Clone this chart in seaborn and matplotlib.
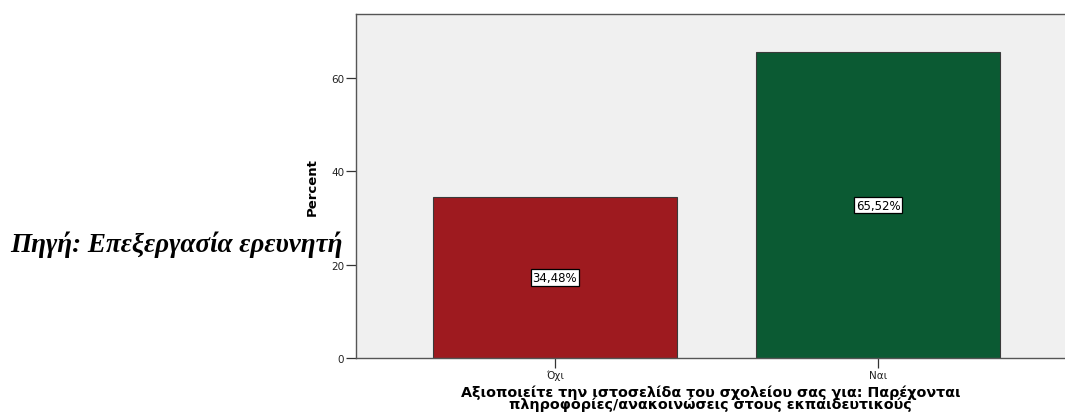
import matplotlib
matplotlib.use("Agg")
import matplotlib.pyplot as plt
import seaborn as sns
import pandas as pd

categories = ["Όχι", "Ναι"]
percents = [34.48, 65.52]
bar_colors = ["#9e1a1f", "#0b5a33"]
y_ticks = [0, 20, 40, 60]
x_title = ("Αξιοποιείτε την ιστοσελίδα του σχολείου σας για: Παρέχονται\n"
           "πληροφορίες/ανακοινώσεις στους εκπαιδευτικούς")
source_note = "Πηγή: Επεξεργασία ερευνητή"

sns.set_theme(style="white")
plt.rcParams["font.family"] = ["DejaVu Sans"]
plt.rcParams["text.color"] = "black"
plt.rcParams["axes.labelcolor"] = "black"

df = pd.DataFrame({"cat": categories, "pct": percents})

fig = plt.figure(figsize=(10.65, 4.14), dpi=100)
ax = fig.add_axes([356 / 1065, 1 - 359 / 414, 1 - 356 / 1065, (359 - 15) / 414])
ax.set_facecolor("#f0f0f0")

sns.barplot(data=df, x="cat", y="pct", hue="cat", palette=bar_colors,
            order=categories, hue_order=categories, legend=False,
            width=0.755, edgecolor="#3a3a3a", linewidth=0.8, saturation=1, ax=ax)

for i, v in enumerate(percents):
    ax.text(i, v / 2, f"{v:.2f}%".replace(".", ","), ha="center", va="center",
            fontsize=8.5, color="black",
            bbox=dict(boxstyle="square,pad=0.15", fc="white", ec="black", lw=0.9))

ax.set_xlim(-0.616, 1.579)
ax.set_ylim(0, 73.7)
ax.set_yticks(y_ticks)
ax.set_yticklabels([str(t) for t in y_ticks], fontsize=7.5, color="#222222")
ax.set_xticks(range(len(categories)))
ax.set_xticklabels(categories, fontsize=7.5, color="#222222")
ax.tick_params(axis="both", direction="out", length=7, width=0.9, color="#333333",
               bottom=True, left=True, pad=1.5)

for side in ["left", "bottom", "top"]:
    ax.spines[side].set_color("#555555")
    ax.spines[side].set_linewidth(1.0)
ax.spines["right"].set_visible(False)

ax.set_ylabel("Percent", fontsize=9.5, fontweight="bold", labelpad=9)
ax.set_xlabel(x_title, fontsize=10.3, fontweight="bold", linespacing=0.8,
              va="bottom", ha="center")
ax.xaxis.set_label_coords(0.5, -(412 - 359) / 344)

fig.text(10 / 1065, 1 - 245 / 414, source_note, ha="left", va="center",
         fontsize=19.5, fontweight="bold", fontstyle="italic", color="black",
         family=["Liberation Serif", "DejaVu Serif"])

fig.savefig("out.png", dpi=100)
